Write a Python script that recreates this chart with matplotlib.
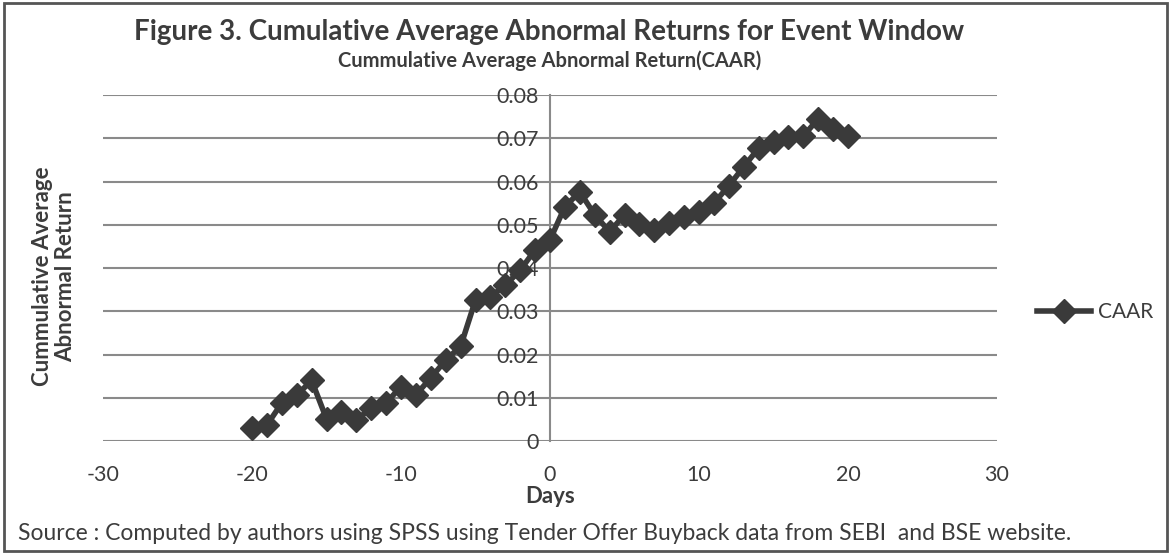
import matplotlib.pyplot as plt
import numpy as np

# event days and cumulative average abnormal return
days = list(range(-20, 21))
caar = [0.0029, 0.0037, 0.0088, 0.0106, 0.0140, 0.0051, 0.0068, 0.0049, 0.0076, 0.0088,
        0.0126, 0.0107, 0.0146, 0.0187, 0.0219, 0.0326, 0.0334, 0.0360, 0.0395, 0.0442,
        0.0465, 0.0542, 0.0576, 0.0523, 0.0484, 0.0523, 0.0502, 0.0488, 0.0504, 0.0519,
        0.0530, 0.0550, 0.0590, 0.0634, 0.0677, 0.0692, 0.0702, 0.0705, 0.0745, 0.0722, 0.0706]

x_ticks = [-30, -20, -10, 0, 10, 20, 30]
y_ticks = [0, 0.01, 0.02, 0.03, 0.04, 0.05, 0.06, 0.07, 0.08]
y_labels = ['0', '0.01', '0.02', '0.03', '0.04', '0.05', '0.06', '0.07', '0.08']

plt.rcParams['font.family'] = ['Lato', 'DejaVu Sans']
plt.rcParams['axes.unicode_minus'] = False
text_col = '#3c3c3c'

fig = plt.figure(figsize=(11.71, 5.53), dpi=100)
ax = fig.add_axes([0.088, 0.2025, 0.7634, 0.6257])

ax.plot(days, caar, color='#3a3a3a', linewidth=4, marker='D', markersize=12,
        markerfacecolor='#3a3a3a', markeredgecolor='#3a3a3a', label='CAAR', zorder=3)

ax.set_xlim(-30, 30)
ax.set_ylim(0, 0.08)
ax.set_xticks(x_ticks)
ax.set_yticks(y_ticks)
ax.set_yticklabels(y_labels)
ax.tick_params(axis='both', length=0, labelsize=15.5, colors=text_col)
ax.tick_params(axis='x', pad=17)
ax.tick_params(axis='y', pad=8)

for s in ['top', 'right', 'bottom']:
    ax.spines[s].set_visible(False)
ax.spines['left'].set_position(('data', 0))
ax.spines['left'].set_color('#8a8a8a')
ax.spines['left'].set_linewidth(1.5)

ax.grid(axis='y', color='#8a8a8a', linewidth=1.5)
ax.set_axisbelow(True)

ax.set_xlabel('Days', fontsize=16, fontweight='bold', color=text_col, labelpad=1)
fig.text(0.046, 0.5, 'Cummulative Average\nAbnormal Return', rotation=90, ha='center', va='center',
         fontsize=16, fontweight='bold', color=text_col, linespacing=1.1)

fig.text(0.469, 0.943, 'Figure 3. Cumulative Average Abnormal Returns for Event Window',
         ha='center', va='center', fontsize=20, fontweight='bold', color=text_col)
fig.text(0.469, 0.89, 'Cummulative Average Abnormal Return(CAAR)',
         ha='center', va='center', fontsize=14.5, fontweight='bold', color=text_col)

fig.text(0.015, 0.036, 'Source : Computed by authors using SPSS using Tender Offer Buyback data from SEBI  and BSE website.',
         ha='left', va='center', fontsize=16.5, color=text_col)

leg = ax.legend(loc='center left', bbox_to_anchor=(1.045, 0.373), frameon=False, fontsize=15,
                handlelength=2.6, handletextpad=0.3, borderpad=0, borderaxespad=0)
for t in leg.get_texts():
    t.set_color(text_col)

# outer frame of the figure
fig.patches.append(plt.Rectangle((0.003, 0.004), 0.994, 0.99, transform=fig.transFigure,
                                 fill=False, edgecolor='#555555', linewidth=2))

fig.savefig('out.png', dpi=100)
